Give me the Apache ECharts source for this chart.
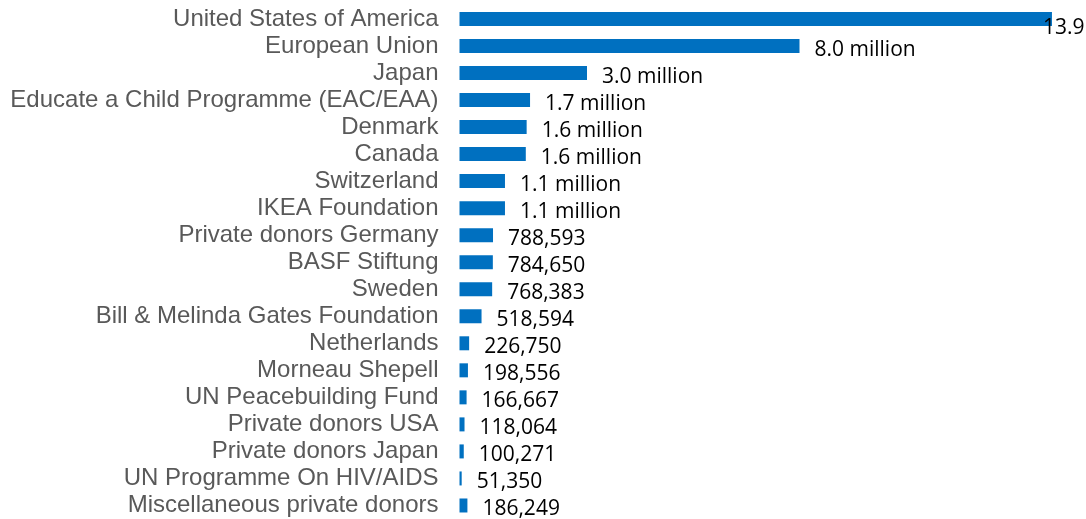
<!DOCTYPE html>
<html>
<head>
<meta charset="utf-8">
<script src="https://cdn.jsdelivr.net/npm/echarts@6/dist/echarts.min.js"></script>
<style>html,body{margin:0;padding:0;background:#fff;}#c{width:1086px;height:519px;}</style>
</head>
<body>
<div id="c"></div>
<script>
var categories = [
  "United States of America","European Union","Japan","Educate a Child Programme (EAC/EAA)",
  "Denmark","Canada","Switzerland","IKEA Foundation","Private donors Germany","BASF Stiftung",
  "Sweden","Bill & Melinda Gates Foundation","Netherlands","Morneau Shepell","UN Peacebuilding Fund",
  "Private donors USA","Private donors Japan","UN Programme On HIV/AIDS","Miscellaneous private donors"
];
var values = [
  13940000, 8000000, 3000000, 1660000, 1580000, 1560000, 1070000, 1070000, 788593, 784650,
  768383, 518594, 226750, 198556, 166667, 118064, 100271, 51350, 186249
];

function fmt(v){
  if (v >= 1000000) return (v/1000000).toFixed(1) + " million";
  return v.toLocaleString("en-US");
}

var data = values.map(function(v, i){
  var d = {value: v};
  if (i === 0) d.label = {offset: [-23, 9]};
  return d;
});

var chart = echarts.init(document.getElementById('c'), null, {renderer:'canvas'});
chart.setOption({
  animation: false,
  grid: {left: 459.5, top: 5.4, height: 516.2, width: 595, containLabel: false},
  xAxis: {type: 'value', min: 0, max: 14000000, show: false},
  yAxis: {
    type: 'category', data: categories, inverse: true,
    axisLine: {show: false}, axisTick: {show: false}, splitLine: {show: false},
    axisLabel: {interval: 0, color: '#595959', fontFamily: 'Liberation Sans', fontSize: 24, margin: 21, padding: [3, 0, 0, 0]}
  },
  series: [{
    type: 'bar', data: data, barWidth: 14,
    itemStyle: {color: '#0070C0'},
    label: {
      show: true, position: 'right', distance: 14, offset: [1, 4],
      color: '#000', fontFamily: 'Open Sans', fontSize: 21,
      formatter: function(p){ return fmt(p.value); }
    }
  }]
});
</script>
</body>
</html>
